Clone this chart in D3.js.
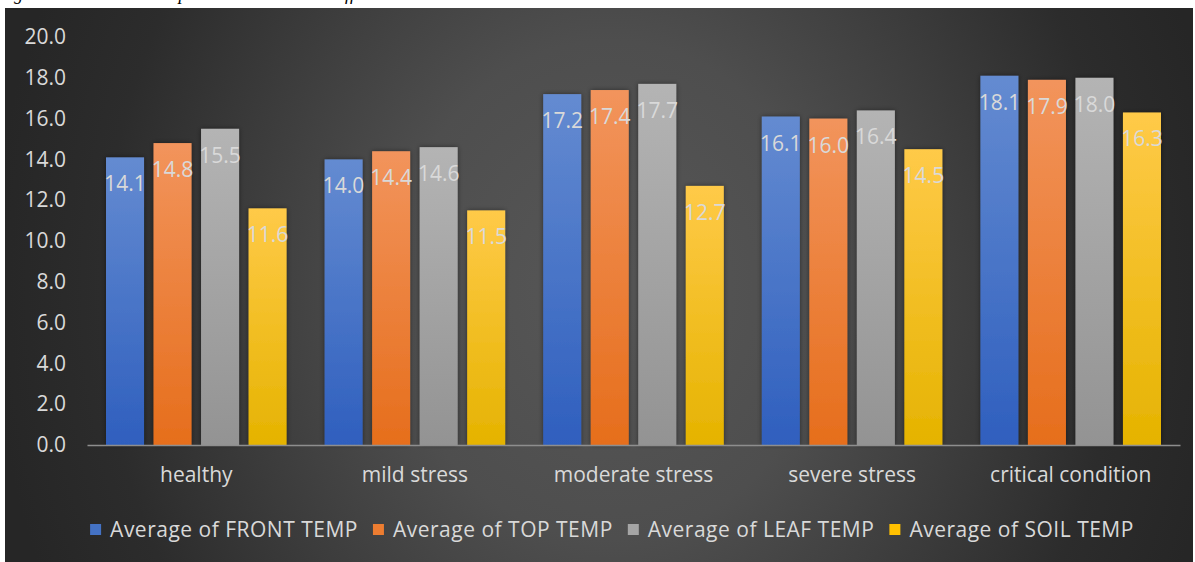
<!DOCTYPE html>
<html>
<head>
<meta charset="utf-8">
<script src="https://cdn.jsdelivr.net/npm/d3@7"></script>
<style>
  html, body { margin: 0; padding: 0; background: #ffffff; }
  svg { display: block; }
  text { font-family: "Open Sans", "Noto Sans", sans-serif; }
</style>
</head>
<body>
<svg id="chart" width="1195" height="562"></svg>
<script>
// Stress classes along the x axis
const categories = ["healthy", "mild stress", "moderate stress", "severe stress", "critical condition"];

// Series names (legend order)
const seriesNames = ["Average of FRONT TEMP", "Average of TOP TEMP", "Average of LEAF TEMP", "Average of SOIL TEMP"];

// Mean temperature per class, one array per series
const frontTemp = [14.1, 14.0, 17.2, 16.1, 18.1];
const topTemp   = [14.8, 14.4, 17.4, 16.0, 17.9];
const leafTemp  = [15.5, 14.6, 17.7, 16.4, 18.0];
const soilTemp  = [11.6, 11.5, 12.7, 14.5, 16.3];

// Y axis ticks
const yTicks = [0, 2, 4, 6, 8, 10, 12, 14, 16, 18, 20];

const seriesValues = [frontTemp, topTemp, leafTemp, soilTemp];
const seriesColors = [
  { top: "#648bd1", bottom: "#2f5fbe", key: "#4472c4" },
  { top: "#f2945c", bottom: "#e66e1c", key: "#ed7d31" },
  { top: "#b4b4b4", bottom: "#939393", key: "#a5a5a5" },
  { top: "#ffca48", bottom: "#e5b300", key: "#ffc000" }
];

const svg = d3.select("#chart");
const W = 1195, H = 562;
const defs = svg.append("defs");

// Dark panel background with a soft lighter centre
const bg = defs.append("radialGradient")
  .attr("id", "bgGrad")
  .attr("gradientUnits", "userSpaceOnUse")
  .attr("cx", 610).attr("cy", 290).attr("r", 620)
  .attr("gradientTransform", "translate(610,290) scale(1,1.15) translate(-610,-290)");
bg.append("stop").attr("offset", "0%").attr("stop-color", "#575757");
bg.append("stop").attr("offset", "35%").attr("stop-color", "#4e4e4e");
bg.append("stop").attr("offset", "82%").attr("stop-color", "#2c2c2c");
bg.append("stop").attr("offset", "100%").attr("stop-color", "#262626");

// Vertical gradient for each series' bars
seriesColors.forEach((c, i) => {
  const g = defs.append("linearGradient")
    .attr("id", "barGrad" + i)
    .attr("x1", 0).attr("y1", 0).attr("x2", 0).attr("y2", 1);
  g.append("stop").attr("offset", "0%").attr("stop-color", c.top);
  g.append("stop").attr("offset", "100%").attr("stop-color", c.bottom);
});

// Light shadow behind the bars
const shadow = defs.append("filter").attr("id", "barShadow")
  .attr("x", "-30%").attr("y", "-10%").attr("width", "160%").attr("height", "120%");
shadow.append("feDropShadow")
  .attr("dx", 0).attr("dy", 0).attr("stdDeviation", 2.5)
  .attr("flood-color", "#000").attr("flood-opacity", 0.45);

// Figure caption sitting above the panel (only its lowest strokes show)
svg.append("text")
  .attr("x", -2).attr("y", 0)
  .style("font-family", "'Liberation Serif', 'DejaVu Serif', serif")
  .style("font-style", "italic")
  .style("font-size", "18px")
  .attr("fill", "#000")
  .text("Figure 8: Mean area temperature recorded at different stress levels");

// Panel
svg.append("rect")
  .attr("x", 5).attr("y", 8)
  .attr("width", W - 7).attr("height", H - 8)
  .attr("fill", "url(#bgGrad)");

// Scales
const plot = { left: 87, right: 1180, top: 37, bottom: 445 };

const x0 = d3.scaleBand()
  .domain(categories)
  .range([plot.left, plot.right])
  .padding(0);

const x1 = d3.scaleBand()
  .domain(d3.range(seriesNames.length))
  .range([0, x0.bandwidth()])
  .paddingInner(0.2)
  .paddingOuter(0.4);

const y = d3.scaleLinear()
  .domain([0, 20])
  .range([plot.bottom, plot.top]);

const labelColor = "#d9d9d9";
const fontSize = "21px";

// Y axis tick labels
const yAxis = svg.append("g")
  .attr("transform", `translate(${plot.left},0)`)
  .call(d3.axisLeft(y).tickValues(yTicks).tickFormat(d3.format(".1f")).tickSize(0).tickPadding(21));
yAxis.select(".domain").remove();
yAxis.selectAll("text")
  .attr("fill", labelColor)
  .style("font-size", fontSize)
  .style("font-family", "'Open Sans', sans-serif");

// Bars
const groups = svg.append("g").selectAll("g")
  .data(categories)
  .join("g")
  .attr("transform", d => `translate(${x0(d)},0)`);

const barData = ci => seriesValues.map((vals, si) => ({ si, value: vals[ci] }));

groups.each(function(cat, ci) {
  const g = d3.select(this);
  const data = barData(ci);
  g.selectAll("rect")
    .data(data)
    .join("rect")
    .attr("x", d => x1(d.si))
    .attr("y", d => y(d.value))
    .attr("width", x1.bandwidth())
    .attr("height", d => y(0) - y(d.value))
    .attr("fill", d => `url(#barGrad${d.si})`)
    .attr("filter", "url(#barShadow)");

  g.selectAll("text.value")
    .data(data)
    .join("text")
    .attr("class", "value")
    .attr("x", d => x1(d.si) + x1.bandwidth() / 2)
    .attr("y", d => y(d.value) + 34)
    .attr("text-anchor", "middle")
    .attr("fill", labelColor)
    .style("font-size", fontSize)
    .text(d => d3.format(".1f")(d.value));
});

// X axis line and category labels
const xAxis = svg.append("g")
  .attr("transform", `translate(0,${plot.bottom})`)
  .call(d3.axisBottom(x0).tickSize(0).tickPadding(0));
xAxis.select(".domain")
  .attr("stroke", "#8e8e8e")
  .attr("stroke-width", 1.5);
xAxis.selectAll("text")
  .attr("fill", labelColor)
  .attr("dy", null)
  .attr("y", 37)
  .style("font-size", fontSize)
  .style("font-family", "'Open Sans', sans-serif");

// Legend
const legend = svg.append("g");
const items = legend.selectAll("g")
  .data(seriesNames)
  .join("g");
items.append("rect")
  .attr("width", 11).attr("height", 11)
  .attr("y", 524)
  .attr("fill", (d, i) => seriesColors[i].key);
items.append("text")
  .attr("x", 20)
  .attr("y", 537)
  .attr("fill", labelColor)
  .style("font-size", fontSize)
  .style("letter-spacing", "0.5px")
  .text(d => d);

// Place legend items side by side from measured text widths
let cursor = 0;
const offsets = [];
items.each(function() {
  offsets.push(cursor);
  const w = d3.select(this).select("text").node().getComputedTextLength();
  cursor += 20 + w + 15;
});
const total = cursor - 15;
const legendStart = 612 - total / 2;
items.attr("transform", (d, i) => `translate(${legendStart + offsets[i]},0)`);
</script>
</body>
</html>
